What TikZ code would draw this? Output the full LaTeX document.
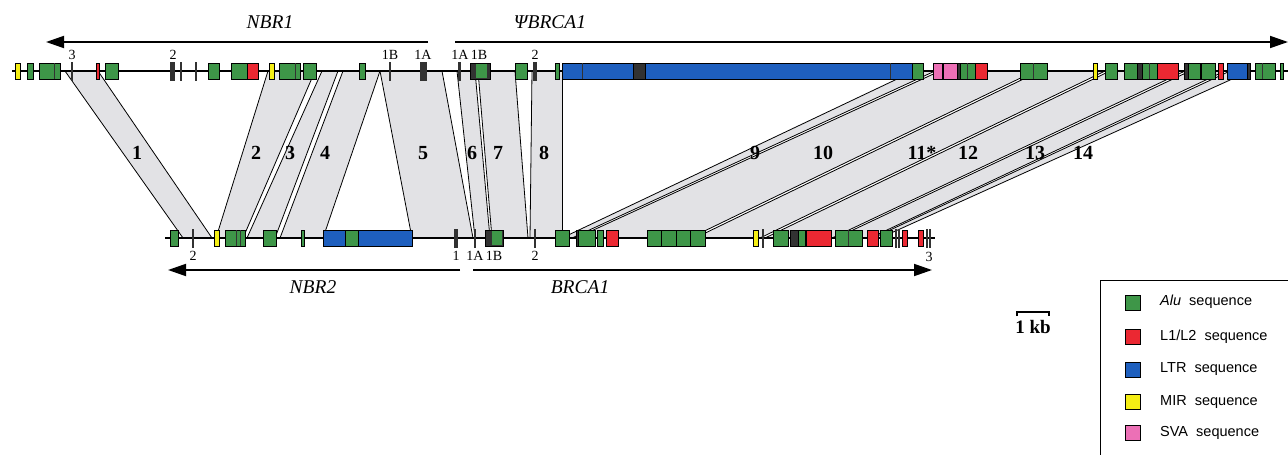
\documentclass[tikz,border=0pt]{standalone}
\usepackage{fontspec}
\setmainfont{Liberation Serif}
\newfontfamily\legfont{Liberation Sans}
\usetikzlibrary{arrows.meta}
\definecolor{alucol}{RGB}{62,150,72}
\definecolor{l1col}{RGB}{235,40,50}
\definecolor{ltrcol}{RGB}{30,95,190}
\definecolor{mircol}{RGB}{245,238,20}
\definecolor{svacol}{RGB}{236,112,182}
\definecolor{darkcol}{RGB}{50,50,50}
\definecolor{bandcol}{RGB}{226,226,229}
\newcommand\bandshape[4]{%
  \fill[bandcol] (#1,71) -- (#2,71) -- (#4,238) -- (#3,238) -- cycle;
  \draw[bandedge] (#1,71) -- (#3,238);
  \draw[bandedge] (#2,71) -- (#4,238);}
\tikzset{
  bandedge/.style={line width=0.8pt, black},
  sbox/.style={draw=black, line width=0.8pt},
  alub/.style={sbox, fill=alucol},
  l1b/.style={sbox, fill=l1col},
  ltrb/.style={sbox, fill=ltrcol},
  mirb/.style={sbox, fill=mircol},
  svab/.style={sbox, fill=svacol},
  darkb/.style={sbox, fill=darkcol},
  exbar/.style={fill=darkcol},
  garrow/.style={line width=1.8pt, -{Triangle[length=18pt,width=12pt]}},
  gname/.style={font=\fontsize{19.5}{22}\selectfont\itshape, inner sep=0pt},
  exlab/.style={font=\fontsize{14}{16}\selectfont, inner sep=0pt},
  bandlab/.style={font=\fontsize{20}{22}\selectfont\bfseries, inner sep=0pt},
  legtext/.style={font=\legfont\fontsize{14.5}{16}\selectfont, anchor=west, inner sep=0pt},
}
\begin{document}
\begin{tikzpicture}[x=1pt, y=-1pt]
\useasboundingbox (0,0) rectangle (1288,455);
\fill[white] (0,0) rectangle (1288,455);

% homology bands
\bandshape{65}{98}{183}{212}
\bandshape{268}{315}{216}{243}
\bandshape{322}{338}{247}{275}
\bandshape{343}{380}{280}{323}
\bandshape{380}{442}{412}{473}
\bandshape{457}{475}{475}{490}
\bandshape{478}{515}{492}{528}
\bandshape{532}{562}{530}{562}
\bandshape{914}{935}{562}{572}
\bandshape{940}{1035}{576}{690}
\bandshape{1040}{1105}{695}{760}
\bandshape{1110}{1185}{765}{832}
\bandshape{1190}{1225}{836}{870}
\bandshape{1230}{1250}{873}{880}

% band numbers
\node[bandlab] (b1) at (137,153) {1};
\node[bandlab] (b2) at (256,153) {2};
\node[bandlab] (b3) at (290,153) {3};
\node[bandlab] (b4) at (325,153) {4};
\node[bandlab] (b5) at (423,153) {5};
\node[bandlab] (b6) at (472,153) {6};
\node[bandlab] (b7) at (498,153) {7};
\node[bandlab] (b8) at (544,153) {8};
\node[bandlab] (b9) at (755,153) {9};
\node[bandlab] (b10) at (823,153) {10};
\node[bandlab] (b11) at (922,153) {11*};
\node[bandlab] (b12) at (968,153) {12};
\node[bandlab] (b13) at (1035,153) {13};
\node[bandlab] (b14) at (1083,153) {14};

% backbone lines
\draw[line width=1.4pt] (12,71) -- (1288,71);
\draw[line width=1.4pt] (165,238) -- (935,238);

% ---- top sequence
\foreach \a/\b in {27/33, 39/60, 105/118, 208/219, 231/247, 279/300, 303/316, 359/365, 515/527, 555/559, 912/923, 960/975, 1020/1047, 1105/1117, 1124/1157, 1188/1200, 1201/1215, 1255/1275, 1280/1283}
  \draw[alub] (\a,63) rectangle (\b,79);
\foreach \a/\b in {96/99, 247/258, 975/987, 1157/1178, 1218/1223}
  \draw[l1b] (\a,63) rectangle (\b,79);
\foreach \a/\b in {15/20, 269/274, 1093/1097}
  \draw[mirb] (\a,63) rectangle (\b,79);
\foreach \a/\b in {562/633, 645/912, 1227/1247}
  \draw[ltrb] (\a,63) rectangle (\b,79);
\foreach \a/\b in {933/942, 943/957}
  \draw[svab] (\a,63) rectangle (\b,79);
\foreach \a/\b in {633/645, 957/960, 1137/1142, 1184/1188, 1247/1250, 470/490}
  \draw[darkb] (\a,63) rectangle (\b,79);
\fill[alucol] (476,64) rectangle (487,78);
\foreach \a in {54, 295, 582, 890, 967, 1033, 1149, 1262}
  \draw[line width=1pt, darkcol] (\a,63) -- (\a,79);
\foreach \a/\b in {71/73, 170/175, 180/182, 195/197, 389/391, 420/427, 458/461, 533/537}
  \fill[exbar] (\a,62) rectangle (\b,81);

% ---- bottom sequence
\draw[ltrb] (323,230) rectangle (412,246);
\foreach \a/\b in {170/178, 225/245, 263/276, 301/304, 345/358, 555/569, 578/595, 597/603, 647/661, 661/676, 676/690, 690/705, 773/788, 798/805, 835/862, 880/892}
  \draw[alub] (\a,230) rectangle (\b,246);
\foreach \a/\b in {606/618, 806/831, 867/878, 902/907, 918/923}
  \draw[l1b] (\a,230) rectangle (\b,246);
\foreach \a/\b in {214/219, 753/758}
  \draw[mirb] (\a,230) rectangle (\b,246);
\foreach \a/\b in {576/578, 790/798, 485/503}
  \draw[darkb] (\a,230) rectangle (\b,246);
\fill[alucol] (492,231) rectangle (502,245);
\foreach \a in {236, 240, 848}
  \draw[line width=1pt, darkcol] (\a,230) -- (\a,246);
\foreach \a/\b in {192/194, 454/458, 474/476, 534/536, 762/764, 895/897, 898/900, 926/928, 929/931}
  \fill[exbar] (\a,229) rectangle (\b,248);

% exon labels
\node[exlab] (e3) at (72,55) {3};
\node[exlab] (e2) at (173,55) {2};
\node[exlab] (e1b) at (390,55) {1B};
\node[exlab] (e1a) at (423,55) {1A};
\node[exlab] (f1a) at (460,55) {1A};
\node[exlab] (f1b) at (479,55) {1B};
\node[exlab] (f2) at (535,55) {2};
\node[exlab] (g2) at (193,256) {2};
\node[exlab] (g1) at (456,256) {1};
\node[exlab] (g1a) at (475,256) {1A};
\node[exlab] (g1b) at (494,256) {1B};
\node[exlab] (h2) at (535,256) {2};
\node[exlab] (h3) at (929,257) {3};

% gene arrows
\draw[garrow] (428,42) -- (46,42);
\draw[garrow] (455,42) -- (1288,42);
\draw[garrow] (460,270) -- (168,270);
\draw[garrow] (473,270) -- (932,270);
\node[gname] (nbr1) at (270,22) {NBR1};
\node[gname] (psib) at (550,22) {ΨBRCA1};
\node[gname] (nbr2) at (313,287) {NBR2};
\node[gname] (brca) at (580,287) {BRCA1};

% scale bar
\draw[line width=1.2pt] (1017,316) -- (1017,312) -- (1049,312) -- (1049,316);
\node[font=\fontsize{19}{21}\selectfont\bfseries, inner sep=0pt] (kb) at (1033,327) {1 kb};

% legend
\draw[line width=1pt] (1100,280) rectangle (1296,462);
\draw[alub] (1125,295) rectangle (1140,310);
\draw[l1b] (1125,329) rectangle (1140,344);
\draw[ltrb] (1125,362) rectangle (1140,377);
\draw[mirb] (1125,394) rectangle (1140,409);
\draw[svab] (1125,425) rectangle (1140,440);
\node[legtext] (la) at (1160,302) {\itshape Alu\upshape\ \ sequence};
\node[legtext] (lb) at (1160,337) {L1/L2\ \ sequence};
\node[legtext] (lc) at (1160,369) {LTR\ \ sequence};
\node[legtext] (ld) at (1160,402) {MIR\ \ sequence};
\node[legtext] (le) at (1160,433) {SVA\ \ sequence};
\end{tikzpicture}
\end{document}
